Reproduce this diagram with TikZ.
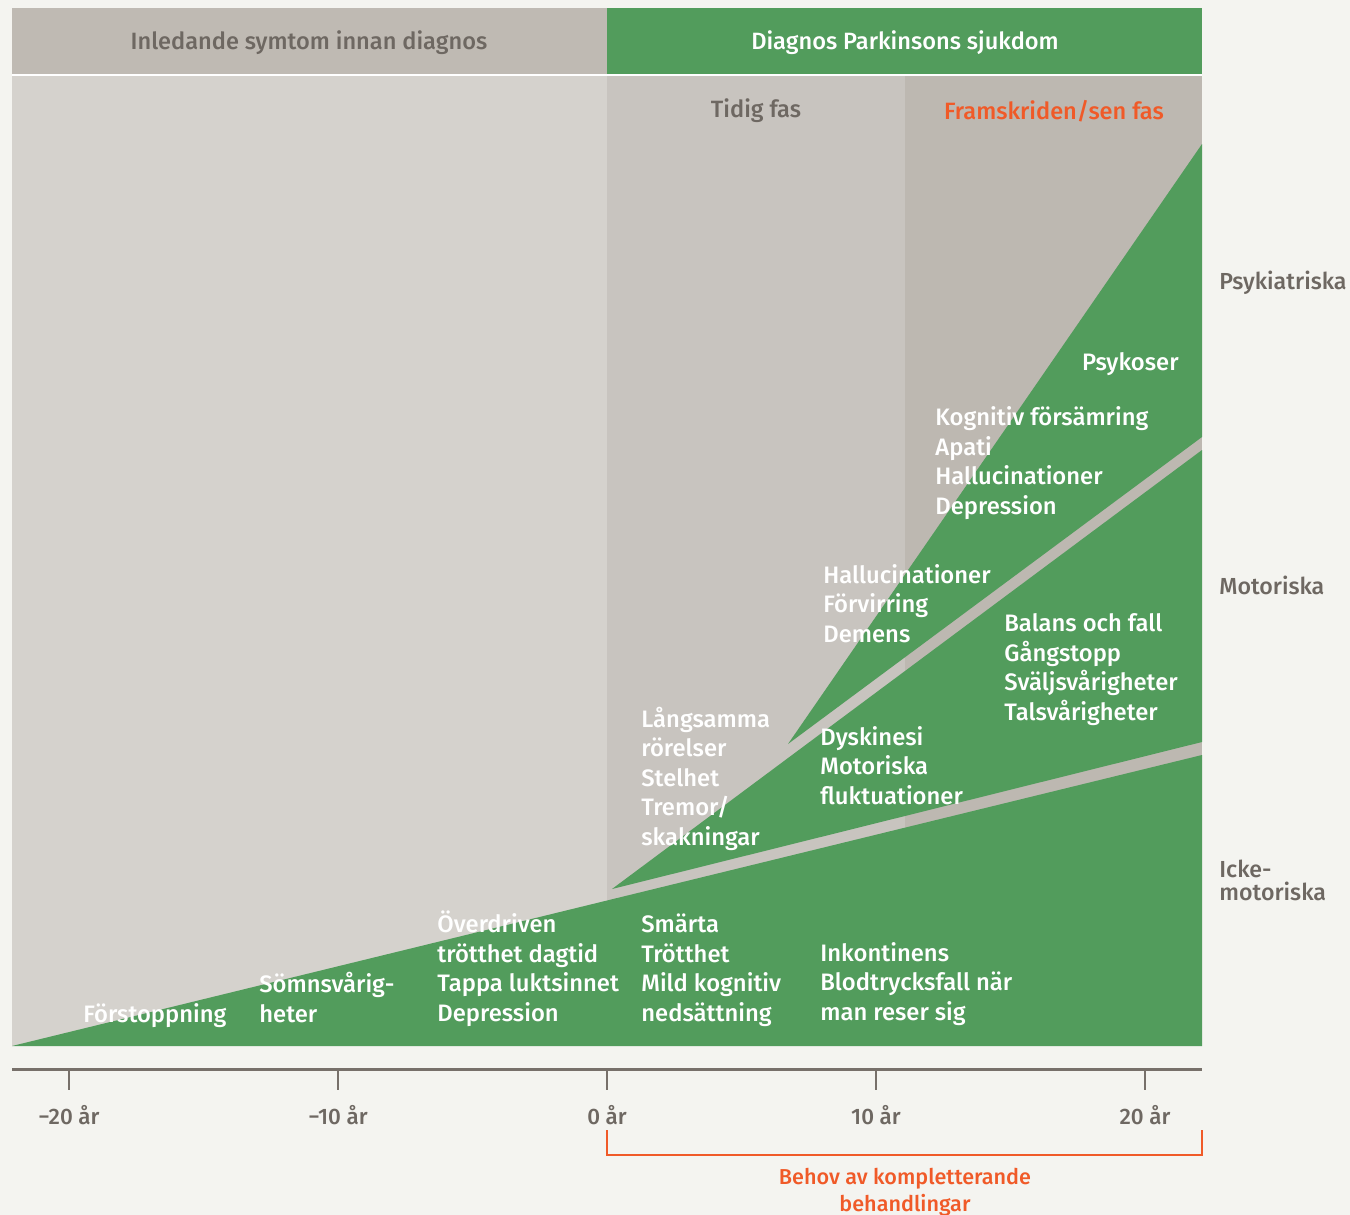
\documentclass[tikz,border=0pt]{standalone}
\usepackage{fontspec}
\setmainfont{Fira Sans}
\newfontfamily\medfont{Fira Sans Medium}
\usetikzlibrary{positioning}
\definecolor{bg}{RGB}{244,244,240}
\definecolor{hdrgrey}{RGB}{191,186,179}
\definecolor{earlygrey}{RGB}{213,210,205}
\definecolor{midgrey}{RGB}{200,196,191}
\definecolor{lategrey}{RGB}{189,184,177}
\definecolor{pdgreen}{RGB}{82,156,92}
\definecolor{labgrey}{RGB}{110,104,98}
\definecolor{pdorange}{RGB}{240,90,40}
\definecolor{axisgrey}{RGB}{119,112,106}

\begin{document}
\begin{tikzpicture}[x=0.5pt, y=-0.5pt,
  symptom/.style={anchor=base west, align=left, inner sep=0pt, text=white, font=\medfont\fontsize{11.9}{14.75}\selectfont},
  header/.style={inner sep=0pt, font=\medfont\fontsize{11.8}{13}\selectfont},
  sidelabel/.style={anchor=base west, align=left, inner sep=0pt, text=labgrey, font=\medfont\fontsize{11.6}{11.5}\selectfont},
  yearlabel/.style={inner sep=0pt, text=labgrey, font=\medfont\fontsize{11.2}{12}\selectfont}]
\useasboundingbox (0,0) rectangle (1350,1215);
\fill[bg] (0,0) rectangle (1350,1215);

% headers and phases
\fill[hdrgrey] (12,8) rectangle (607,74);
\fill[pdgreen] (607,8) rectangle (1202,74);
\fill[white] (12,74) rectangle (1202,76);
\fill[earlygrey] (12,76) rectangle (607,1046);
\fill[midgrey] (607,76) rectangle (905,1046);
\fill[lategrey] (905,76) rectangle (1202,1046);

% the three green wedges
\fill[pdgreen] (12,1046) -- (1202,755) -- (1202,1046) -- cycle;
\fill[pdgreen] (612,889) -- (1202,742) -- (1202,450) -- cycle;
\fill[pdgreen] (788,744) -- (1202,437) -- (1202,144) -- cycle;

\node (pre)   [header, text=labgrey] at (309,43) {Inledande symtom innan diagnos};
\node (diag)  [header, text=white]   at (905,43) {Diagnos Parkinsons sjukdom};
\node (early) [header, text=labgrey] at (756,111) {Tidig fas};
\node (late)  [header, text=pdorange] at (1054,111) {Framskriden/sen fas};

% symptoms (anchored at the baseline of the last line)
\node (s1) [symptom] at (83,1022) {Förstoppning};
\node (s2) [symptom] at (259,1022) {Sömnsvårig-\\heter};
\node (s3) [symptom] at (437,1021) {Överdriven\\trötthet dagtid\\Tappa luktsinnet\\Depression};
\node (s4) [symptom] at (641,1021) {Smärta\\Trötthet\\Mild kognitiv\\nedsättning};
\node (s5) [symptom] at (820,1020) {Inkontinens\\Blodtrycksfall när\\man reser sig};
\node (m1) [symptom] at (641,845) {Långsamma\\rörelser\\Stelhet\\Tremor/\\skakningar};
\node (m2) [symptom] at (820,804) {Dyskinesi\\Motoriska\\fluktuationer};
\node (m3) [symptom] at (1004,720) {Balans och fall\\Gångstopp\\Sväljsvårigheter\\Talsvårigheter};
\node (p1) [symptom] at (823,642) {Hallucinationer\\Förvirring\\Demens};
\node (p2) [symptom] at (935,514) {Kognitiv försämring\\Apati\\Hallucinationer\\Depression};
\node (p3) [symptom, anchor=base east] at (1179,370) {Psykoser};

% side labels
\node (psy)  [sidelabel] at (1219,289) {Psykiatriska};
\node (mot)  [sidelabel] at (1219,594) {Motoriska};
\node (icke) [sidelabel] at (1219,900) {Icke-\\motoriska};

% time axis
\draw[axisgrey, line width=1.5pt] (12,1069) -- (1202,1069);
\foreach \x/\lab in {69/{−20 år}, 338/{−10 år}, 607/{0 år}, 876/{10 år}, 1145/{20 år}} {
  \draw[axisgrey, line width=1pt] (\x,1069) -- (\x,1090);
  \node[yearlabel] at (\x,1115) {\lab};
}

% bracket
\draw[pdorange, line width=0.7pt] (607,1130) -- (607,1155) -- (1202,1155) -- (1202,1130);
\node (need) [inner sep=0pt, align=center, anchor=base, text=pdorange, font=\medfont\fontsize{10.8}{13.5}\selectfont] at (905,1211) {Behov av kompletterande\\behandlingar};
\end{tikzpicture}
\end{document}
